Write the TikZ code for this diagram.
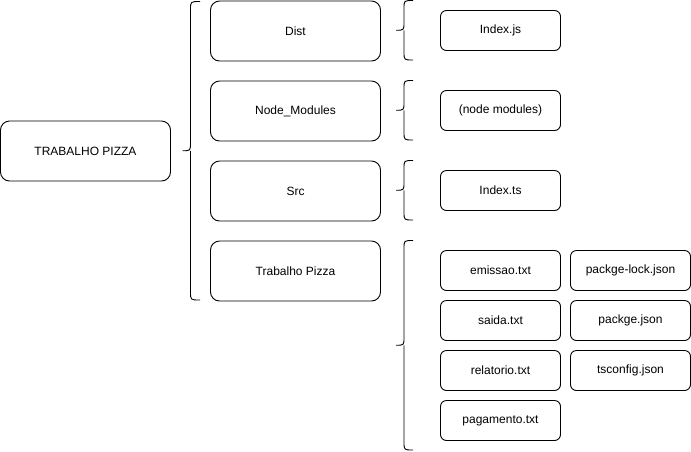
\documentclass[tikz,border=0pt]{standalone}
\usepackage{fontspec}
\setmainfont{Liberation Sans}
\newcommand\brc[5]{% tip x, vertical x, end x, top y, bottom y
  \draw[brace] (#3,#4) .. controls (#2,#4) .. (#2,#4+8) -- (#2,{(#4+#5)/2-8}) .. controls (#2,{(#4+#5)/2}) .. (#1,{(#4+#5)/2})
    (#2,{(#4+#5)/2}) ++(0,0) .. controls (#2,{(#4+#5)/2}) .. (#2,{(#4+#5)/2+8}) -- (#2,#5-8) .. controls (#2,#5) .. (#3,#5);}
\begin{document}
\begin{tikzpicture}[x=1pt,y=-1pt,
  box/.style={draw=black,line width=0.9pt,rounded corners=9pt,minimum width=170pt,minimum height=60pt,inner sep=0pt,font=\fontsize{12}{14}\selectfont},
  fbox/.style={draw=black,line width=0.9pt,rounded corners=6pt,minimum width=120pt,minimum height=40pt,inner sep=0pt,font=\fontsize{12}{14}\selectfont},
  brace/.style={draw=black,line width=0.9pt}]
\useasboundingbox (0,0) rectangle (691,451);
\node[box] (root) at (85.5,151) {TRABALHO PIZZA};
\node[box] (dist) at (295.5,31) {Dist};
\node[box] (nm) at (295.5,111) {Node\_Modules};
\node[box] (src) at (295.5,191) {Src};
\node[box] (tp) at (295.5,271) {Trabalho Pizza};
\node[fbox] (ijs) at (500.5,30.5) {Index.js};
\node[fbox] (nmod) at (500.5,110.5) {(node modules)};
\node[fbox] (its) at (500.5,190.5) {Index.ts};
\node[fbox] (em) at (500.5,270.5) {emissao.txt};
\node[fbox] (sa) at (500.5,320.5) {saida.txt};
\node[fbox] (re) at (500.5,370.5) {relatorio.txt};
\node[fbox] (pg) at (500.5,420.5) {pagamento.txt};
\node[fbox] (pl) at (630.5,270.5) {packge-lock.json};
\node[fbox] (pk) at (630.5,320.5) {packge.json};
\node[fbox] (ts) at (630.5,370.5) {tsconfig.json};
\brc{182.5}{190.5}{200}{1.5}{300}
\brc{396}{404}{413}{0.5}{60}
\brc{396}{404}{413}{80.5}{140}
\brc{396}{404}{413}{160.5}{220}
\brc{396}{404}{413}{240.5}{450}
\end{tikzpicture}
\end{document}
